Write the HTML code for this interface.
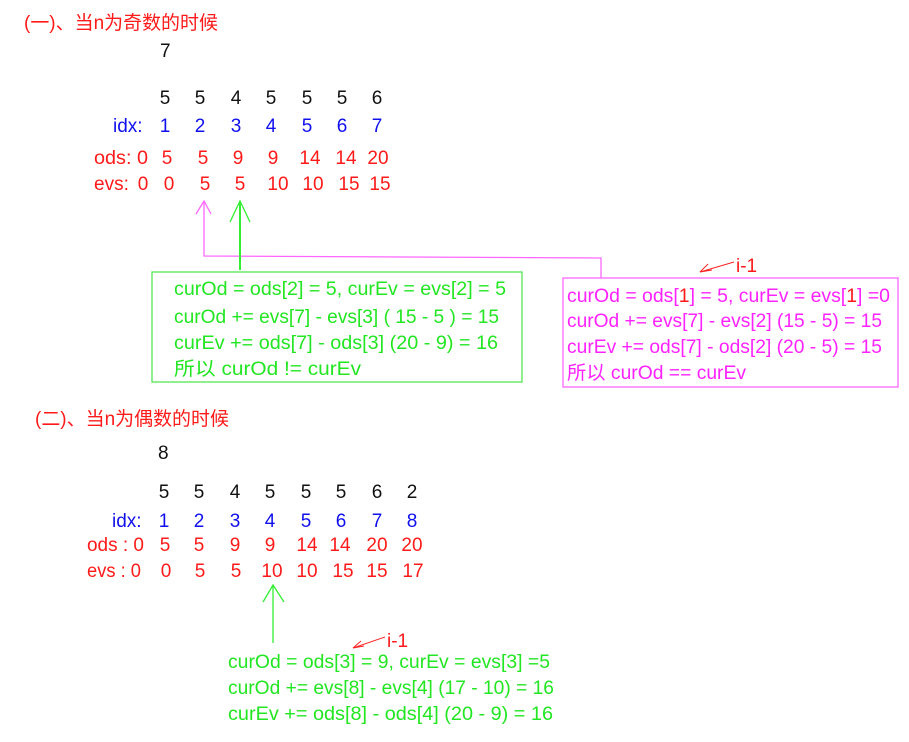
<!DOCTYPE html>
<html><head><meta charset="utf-8"><style>
html,body{margin:0;padding:0;background:#fff;}
svg{display:block;}
text{font-family:"Liberation Sans","Noto Sans CJK SC",sans-serif;font-size:19px;}
.r{fill:#ff1a1a}.b{fill:#1010ee}.k{fill:#111}.g{fill:#22e622}.m{fill:#ff22ff}
</style></head><body>
<svg width="909" height="742" viewBox="0 0 909 742" xmlns="http://www.w3.org/2000/svg">
<text x="24" y="29" class="r" textLength="194" lengthAdjust="spacingAndGlyphs">(一)、当n为奇数的时候</text>
<text x="160" y="57" class="k">7</text>
<g class="k" text-anchor="middle">
<text x="165" y="104">5</text><text x="200" y="104">5</text><text x="236" y="104">4</text><text x="271" y="104">5</text><text x="307" y="104">5</text><text x="342" y="104">5</text><text x="377" y="104">6</text>
</g>
<text x="113" y="132" class="b">idx:</text>
<g class="b" text-anchor="middle">
<text x="165" y="132">1</text><text x="200" y="132">2</text><text x="236" y="132">3</text><text x="271" y="132">4</text><text x="307" y="132">5</text><text x="342" y="132">6</text><text x="377" y="132">7</text>
</g>
<text x="94" y="164" class="r" textLength="54" lengthAdjust="spacingAndGlyphs">ods: 0</text>
<g class="r" text-anchor="middle">
<text x="167" y="164">5</text><text x="203" y="164">5</text><text x="238" y="164">9</text><text x="273" y="164">9</text><text x="310" y="164">14</text><text x="346" y="164">14</text><text x="378" y="164">20</text>
</g>
<text x="94" y="190" class="r">evs:</text>
<g class="r" text-anchor="middle">
<text x="143" y="190">0</text><text x="169" y="190">0</text><text x="205" y="190">5</text><text x="240" y="190">5</text><text x="278" y="190">10</text><text x="313" y="190">10</text><text x="349" y="190">15</text><text x="380" y="190">15</text>
</g>
<polyline points="204,201 204,256 601,258 601,278" fill="none" stroke="#ff66ff" stroke-width="1.3"/>
<polyline points="196,214 204,201 211,214" fill="none" stroke="#ff66ff" stroke-width="1.3"/>
<line x1="240" y1="201" x2="240" y2="270" stroke="#33ee33" stroke-width="2"/>
<polyline points="230,222 240,201 250,222" fill="none" stroke="#33ee33" stroke-width="1.3"/>
<rect x="152" y="272" width="370" height="110" fill="none" stroke="#55e855" stroke-width="1.3"/>
<text x="174" y="295" class="g" textLength="332" lengthAdjust="spacingAndGlyphs">curOd =  ods[2] = 5, curEv = evs[2] = 5</text>
<text x="174" y="323" class="g" textLength="325" lengthAdjust="spacingAndGlyphs">curOd += evs[7] - evs[3] ( 15 - 5 ) = 15</text>
<text x="174" y="349" class="g" textLength="324" lengthAdjust="spacingAndGlyphs">curEv  += ods[7] - ods[3] (20 - 9) =  16</text>
<text x="174" y="375" class="g" textLength="187" lengthAdjust="spacingAndGlyphs">所以 curOd != curEv</text>
<rect x="563" y="278" width="335" height="109" fill="none" stroke="#ff66ff" stroke-width="1.3"/>
<text x="567" y="302" class="m" textLength="323" lengthAdjust="spacingAndGlyphs">curOd = ods[<tspan class="r">1</tspan>] = 5, curEv = evs[<tspan class="r">1</tspan>] =0</text>
<text x="567" y="327" class="m" textLength="315" lengthAdjust="spacingAndGlyphs">curOd += evs[7] - evs[2] (15 - 5) = 15</text>
<text x="567" y="353" class="m" textLength="315" lengthAdjust="spacingAndGlyphs">curEv += ods[7] - ods[2] (20 - 5) = 15</text>
<text x="567" y="379" class="m" textLength="179" lengthAdjust="spacingAndGlyphs">所以 curOd == curEv</text>
<text x="736" y="272" class="r">i-1</text>
<polyline points="734,262 700,272 712,270" fill="none" stroke="#ff2222" stroke-width="1"/>
<line x1="700" y1="272" x2="708" y2="264" stroke="#ff2222" stroke-width="1"/>

<text x="35" y="425" class="r" textLength="194" lengthAdjust="spacingAndGlyphs">(二)、当n为偶数的时候</text>
<text x="158" y="459" class="k">8</text>
<g class="k" text-anchor="middle">
<text x="164" y="498">5</text><text x="199" y="498">5</text><text x="235" y="498">4</text><text x="270" y="498">5</text><text x="306" y="498">5</text><text x="341" y="498">5</text><text x="377" y="498">6</text><text x="412" y="498">2</text>
</g>
<text x="112" y="527" class="b">idx:</text>
<g class="b" text-anchor="middle">
<text x="164" y="527">1</text><text x="199" y="527">2</text><text x="235" y="527">3</text><text x="270" y="527">4</text><text x="306" y="527">5</text><text x="341" y="527">6</text><text x="377" y="527">7</text><text x="412" y="527">8</text>
</g>
<text x="87" y="551" class="r" textLength="57" lengthAdjust="spacingAndGlyphs">ods : 0</text>
<g class="r" text-anchor="middle">
<text x="165" y="551">5</text><text x="199" y="551">5</text><text x="235" y="551">9</text><text x="270" y="551">9</text><text x="307" y="551">14</text><text x="340" y="551">14</text><text x="377" y="551">20</text><text x="412" y="551">20</text>
</g>
<text x="87" y="577" class="r" textLength="54" lengthAdjust="spacingAndGlyphs">evs : 0</text>
<g class="r" text-anchor="middle">
<text x="166" y="577">0</text><text x="200" y="577">5</text><text x="236" y="577">5</text><text x="272" y="577">10</text><text x="307" y="577">10</text><text x="343" y="577">15</text><text x="377" y="577">15</text><text x="413" y="577">17</text>
</g>
<line x1="273" y1="585" x2="273" y2="643" stroke="#33ee33" stroke-width="1.3"/>
<polyline points="263,602 273,585 284,602" fill="none" stroke="#33ee33" stroke-width="1.3"/>
<text x="387" y="647" class="r">i-1</text>
<polyline points="385,637 353,648 364,646" fill="none" stroke="#ff2222" stroke-width="1"/>
<line x1="353" y1="648" x2="361" y2="641" stroke="#ff2222" stroke-width="1"/>
<text x="228" y="668" class="g" textLength="322" lengthAdjust="spacingAndGlyphs">curOd = ods[3] = 9, curEv = evs[3] =5</text>
<text x="228" y="694" class="g" textLength="326" lengthAdjust="spacingAndGlyphs">curOd += evs[8] - evs[4] (17 - 10) = 16</text>
<text x="228" y="720" class="g" textLength="325" lengthAdjust="spacingAndGlyphs">curEv +=  ods[8] - ods[4] (20 - 9) =  16</text>
</svg>
</body></html>
